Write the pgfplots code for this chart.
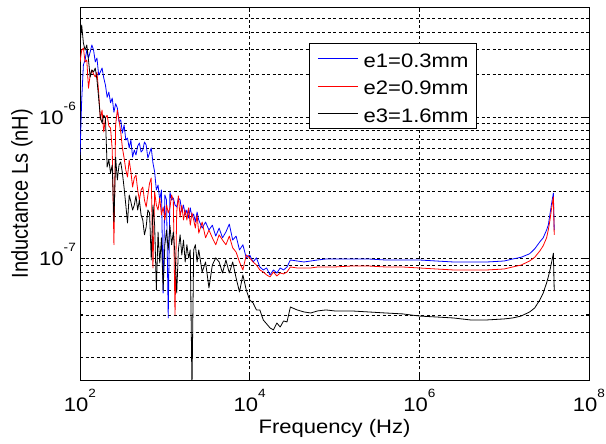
\documentclass[border=0pt]{standalone}
\usepackage{fontspec}
\setmainfont{Liberation Sans}[FakeStretch=1.13]
\newfontfamily\plainsans{Liberation Sans}
\usepackage{graphicx}
\usepackage{pgfplots}
\usepackage{pgfplotstable}
\pgfplotsset{compat=1.18}

% power-of-ten tick label set in the text font
\newcommand\tp[1]{10\raisebox{13.5bp}{\fontsize{12bp}{12bp}\selectfont #1}}

% frequency (Hz) and series inductance for the three thicknesses
\pgfplotstableread{
f e1 e2 e3
100 5.39e-7 2.45e-6 3.23e-6
104.71 1.32e-6 2.97e-6 4.47e-6
109.65 2.33e-6 3.07e-6 3.33e-6
114.82 2.53e-6 2.45e-6 2.97e-6
120.23 2.97e-6 2.53e-6 3.23e-6
125.89 2.61e-6 1.60e-6 2.53e-6
131.83 2.88e-6 1.98e-6 1.92e-6
138.04 3.23e-6 2.15e-6 2.15e-6
144.54 2.97e-6 2.01e-6 2.08e-6
151.36 2.45e-6 1.92e-6 2.22e-6
158.49 2.61e-6 2.08e-6 1.83e-6
165.96 1.98e-6 1.50e-6 1.36e-6
173.78 2.08e-6 9.52e-7 1.00e-6
181.97 2.22e-6 1.12e-6 9.07e-7
190.55 1.89e-6 7.83e-7 1.03e-6
199.53 1.68e-6 9.84e-7 9.84e-7
208.93 1.38e-6 1.03e-6 4.43e-7
218.78 1.50e-6 8.64e-7 4.97e-7
229.09 1.26e-6 8.36e-7 4.02e-7
239.88 1.36e-6 5.85e-7 4.58e-7
251.19 1.08e-6 1.25e-7 1.81e-7
263.03 1.24e-6 8.78e-7 5.21e-7
275.42 1.16e-6 1.12e-6 3.59e-7
288.40 9.22e-7 9.52e-7 4.58e-7
302.00 9.52e-7 7.83e-7 4.81e-7
316.23 7.70e-7 6.04e-7 4.02e-7
331.13 8.78e-7 5.13e-7 3.15e-7
346.74 6.88e-7 4.22e-7 2.39e-7
363.08 7.10e-7 3.77e-7 1.78e-7
380.19 6.04e-7 4.97e-7 2.81e-7
398.11 6.88e-7 4.09e-7 2.51e-7
416.87 5.21e-7 3.20e-7 2.20e-7
436.52 5.85e-7 3.71e-7 2.39e-7
457.09 5.39e-7 3.89e-7 2.77e-7
478.63 6.24e-7 3.05e-7 2.20e-7
501.19 6.55e-7 2.59e-7 2.59e-7
524.81 5.66e-7 3.05e-7 2.03e-7
549.54 5.85e-7 3.20e-7 1.87e-7
575.44 6.66e-7 2.59e-7 1.47e-7
602.56 6.34e-7 2.31e-7 1.67e-7
630.96 5.13e-7 2.81e-7 2.20e-7
660.69 5.57e-7 3.41e-7 2.10e-7
691.83 6.04e-7 3.71e-7 9.76e-8
724.44 4.73e-7 8.57e-8 2.39e-7
758.58 4.09e-7 2.95e-7 1.72e-7
794.33 3.05e-7 2.39e-7 5.99e-8
831.76 3.31e-7 2.20e-7 1.54e-7
870.96 2.59e-7 2.68e-7 9.29e-8
912.01 3.05e-7 2.03e-7 1.40e-7
954.99 5.70e-8 2.31e-7 5.99e-8
1000 2.81e-7 1.87e-7 1.25e-7
1047.1 2.59e-7 2.39e-7 1.59e-7
1096.5 3.80e-8 2.10e-7 1.15e-7
1148.2 2.95e-7 2.28e-7 1.72e-7
1202.3 2.59e-7 2.81e-7 1.25e-7
1258.9 2.68e-7 2.59e-7 1.54e-7
1318.3 2.39e-7 3.99e-8 1.06e-7
1380.4 2.31e-7 2.13e-7 5.70e-8
1445.4 2.68e-7 2.77e-7 1.15e-7
1513.6 2.59e-7 1.96e-7 1.47e-7
1584.9 2.13e-7 2.39e-7 1.06e-7
1659.6 2.39e-7 1.87e-7 1.35e-7
1737.8 2.03e-7 2.20e-7 9.45e-8
1819.7 2.20e-7 1.87e-7 1.25e-7
1905.5 1.93e-7 2.28e-7 1.01e-7
1995.3 2.28e-7 1.72e-7 1.15e-7
2089.3 1.96e-7 2.10e-7 1.2e-8
2187.8 2.06e-7 1.87e-7 1.15e-7
2290.9 1.81e-7 1.64e-7 1.25e-7
2398.8 2.13e-7 2.03e-7 9.45e-8
2511.9 1.87e-7 1.51e-7 1.15e-7
2754.2 1.64e-7 1.81e-7 8.03e-8
3020.0 1.81e-7 1.40e-7 9.45e-8
3311.3 1.59e-7 1.59e-7 6.19e-8
3630.8 1.72e-7 1.40e-7 8.99e-8
3981.1 1.44e-7 1.25e-7 1.01e-7
4365.2 1.64e-7 1.47e-7 9.45e-8
4786.3 1.40e-7 1.35e-7 7.90e-8
5248.1 1.54e-7 1.25e-7 9.76e-8
5754.4 1.75e-7 1.44e-7 7.90e-8
6309.6 1.35e-7 1.19e-7 9.45e-8
6918.3 1.44e-7 1.11e-7 7.29e-8
7585.8 1.15e-7 9.45e-8 5.80e-8
8317.6 1.25e-7 8.30e-8 7.65e-8
9120.1 1.01e-7 1.06e-7 5.99e-8
10000 1.06e-7 1.01e-7 5.09e-8
10965 9.45e-8 9.45e-8 4.85e-8
12023 1.01e-7 8.99e-8 4.33e-8
13183 8.71e-8 8.30e-8 4.33e-8
14454 8.30e-8 8.03e-8 3.68e-8
15849 8.57e-8 7.65e-8 3.45e-8
17378 7.65e-8 7.41e-8 3.23e-8
19055 8.30e-8 8.03e-8 3.13e-8
20893 7.90e-8 7.53e-8 3.50e-8
22909 8.57e-8 7.90e-8 3.28e-8
25119 8.30e-8 7.78e-8 3.62e-8
27542 8.71e-8 8.03e-8 3.56e-8
30200 9.76e-8 8.71e-8 4.54e-8
36308 9.60e-8 8.57e-8 4.33e-8
43652 9.45e-8 8.57e-8 4.19e-8
52481 9.60e-8 8.57e-8 4.12e-8
63096 9.76e-8 8.71e-8 4.26e-8
79433 9.92e-8 8.71e-8 4.33e-8
1e5 9.92e-8 8.71e-8 4.26e-8
1.5849e5 9.92e-8 8.85e-8 4.26e-8
2.5119e5 9.92e-8 8.85e-8 4.19e-8
3.9811e5 9.76e-8 8.71e-8 4.12e-8
6.3096e5 9.76e-8 8.71e-8 4.06e-8
1e6 9.76e-8 8.57e-8 3.92e-8
1.5849e6 9.60e-8 8.43e-8 3.86e-8
2.5119e6 9.45e-8 8.30e-8 3.80e-8
3.9811e6 9.45e-8 8.30e-8 3.68e-8
6.3096e6 9.45e-8 8.30e-8 3.68e-8
1e7 9.60e-8 8.43e-8 3.74e-8
1.2589e7 9.92e-8 8.71e-8 3.80e-8
1.5849e7 1.02e-7 8.99e-8 3.92e-8
1.9953e7 1.08e-7 9.60e-8 4.19e-8
2.2909e7 1.17e-7 1.02e-7 4.47e-8
2.6303e7 1.31e-7 1.13e-7 5.09e-8
2.8840e7 1.40e-7 1.23e-7 5.70e-8
3.1623e7 1.59e-7 1.40e-7 6.71e-8
3.3113e7 1.72e-7 1.59e-7 7.41e-8
3.4674e7 2.06e-7 1.87e-7 8.30e-8
3.6308e7 2.47e-7 2.28e-7 9.45e-8
3.8019e7 2.90e-7 2.72e-7 1.09e-7
3.8905e7 1.59e-7 1.47e-7 5.99e-8
}\lsdata

\begin{document}
\begin{tikzpicture}
\path[use as bounding box] (-80bp,-64bp) rectangle (526bp,380bp);
\begin{axis}[
  at={(0,0)}, anchor=south west,
  scale only axis, width=509bp, height=373bp,
  xmode=log, ymode=log,
  xmin=1e2, xmax=1e8, ymin=1.384e-8, ymax=5.99e-6,
  xtick={1e2,1e4,1e6,1e8},
  xticklabels={\tp{2},\tp{4},\tp{6},\tp{8}},
  ytick={1e-7,1e-6},
  yticklabels={\tp{-7},\tp{-6}},
  minor xtick={},
  minor ytick={2e-8,3e-8,4e-8,5e-8,6e-8,7e-8,8e-8,9e-8,
               2e-7,3e-7,4e-7,5e-7,6e-7,7e-7,8e-7,9e-7,
               2e-6,3e-6,4e-6,5e-6},
  xmajorgrids, ymajorgrids, yminorgrids,
  major grid style={black, line width=0.5bp, dash pattern=on 3bp off 2.5bp},
  minor grid style={black, line width=0.5bp, dash pattern=on 3bp off 2.5bp},
  tick align=inside,
  major tick length=5bp, minor tick length=3bp,
  tick style={black, line width=0.6bp},
  axis line style={black, line width=0.9bp},
  xticklabel style={font=\fontsize{19.5bp}{20bp}\selectfont, anchor=base, yshift=-31bp, inner sep=0pt},
  yticklabel style={font=\fontsize{19.5bp}{20bp}\selectfont, anchor=base east, yshift=-7bp, xshift=-4bp, inner sep=0pt},
  xlabel={Frequency (Hz)},
  ylabel={\plainsans\scalebox{1}[1.15]{Inductance Ls (nH)}},
  every axis x label/.style={at={(axis description cs:0.5,-0.1421)}, anchor=base, font=\fontsize{19.5bp}{20bp}\selectfont, inner sep=0pt},
  every axis y label/.style={at={(axis description cs:-0.1022,0.5)}, rotate=90, anchor=base, font=\fontsize{20bp}{21bp}\selectfont, inner sep=0pt},
  legend cell align=left,
  legend style={at={(0.450,0.9035)}, anchor=north west, draw=black, line width=0.8bp, fill=white,
    font=\fontsize{19.5bp}{20bp}\selectfont, inner xsep=8bp, inner ysep=6bp, row sep=9.3bp, column sep=5.4bp,
    nodes={inner sep=0pt, text height=17.6bp, text depth=0.6bp}},
  legend image code/.code={\draw[#1] (0bp,0bp) -- (40bp,0bp);},
  every axis plot/.append style={line width=0.8bp, line join=round},
]
\addplot[blue] table[x=f, y=e1] {\lsdata};
\addplot[red] table[x=f, y=e2] {\lsdata};
\addplot[black] table[x=f, y=e3] {\lsdata};
\legend{e1=0.3mm, e2=0.9mm, e3=1.6mm}
\end{axis}
\end{tikzpicture}
\end{document}
